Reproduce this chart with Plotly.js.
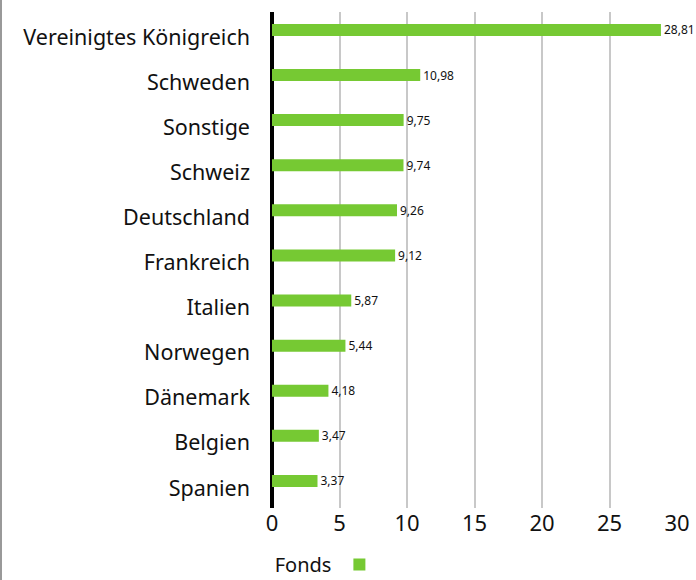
<!DOCTYPE html>
<html>
<head>
<meta charset="utf-8">
<script src="https://cdn.plot.ly/plotly-3.0.1.min.js"></script>
<style>
html,body{margin:0;padding:0;background:#fff;}
#chart{width:694px;height:580px;border-left:2px solid #999;}
</style>
</head>
<body>
<div id="chart"></div>
<script>
const categories = ["Vereinigtes Königreich","Schweden","Sonstige","Schweiz","Deutschland","Frankreich","Italien","Norwegen","Dänemark","Belgien","Spanien"];
const values = [28.81,10.98,9.75,9.74,9.26,9.12,5.87,5.44,4.18,3.47,3.37];
const seriesName = "Fonds";
const xTicks = [0,5,10,15,20,25,30];

const trace = {
  type: "bar",
  orientation: "h",
  y: categories,
  x: values,
  name: "",
  width: 0.266,
  offset: -0.29,
  marker: {color: "#76c933"},
  texttemplate: "%{x:.2f}",
  textposition: "outside",
  constraintext: "none",
  cliponaxis: false,
  textfont: {family: "Noto Sans, sans-serif", size: 12, color: "#111"},
  hoverinfo: "none",
  showlegend: true
};

const layout = {
  width: 694, height: 580,
  margin: {l: 270, r: 19, t: 12, b: 72},
  paper_bgcolor: "#fff",
  plot_bgcolor: "#fff",
  separators: ",.",
  font: {family: "Noto Sans, sans-serif", color: "#111"},
  xaxis: {
    range: [0, 30],
    tickvals: xTicks,
    showgrid: true,
    gridcolor: "#c8c8c8",
    gridwidth: 2,
    zeroline: true,
    zerolinecolor: "#000",
    zerolinewidth: 4,
    showline: false,
    tickfont: {size: 22, color: "#111"},
    fixedrange: true
  },
  yaxis: {
    range: [10.443, -0.554],
    showgrid: false,
    zeroline: false,
    showline: false,
    ticklabelstandoff: 21,
    tickfont: {size: 21.5, color: "#111"},
    fixedrange: true
  },
  showlegend: true,
  legend: {
    orientation: "h",
    xref: "container", yref: "container",
    x: 0.39, xanchor: "left",
    y: 0.058, yanchor: "top",
    title: {text: seriesName, side: "left", font: {size: 20, color: "#111"}},
    font: {size: 18},
    itemwidth: 30
  }
};

Plotly.newPlot("chart", [trace], layout, {displayModeBar: false, staticPlot: true});
</script>
</body>
</html>
